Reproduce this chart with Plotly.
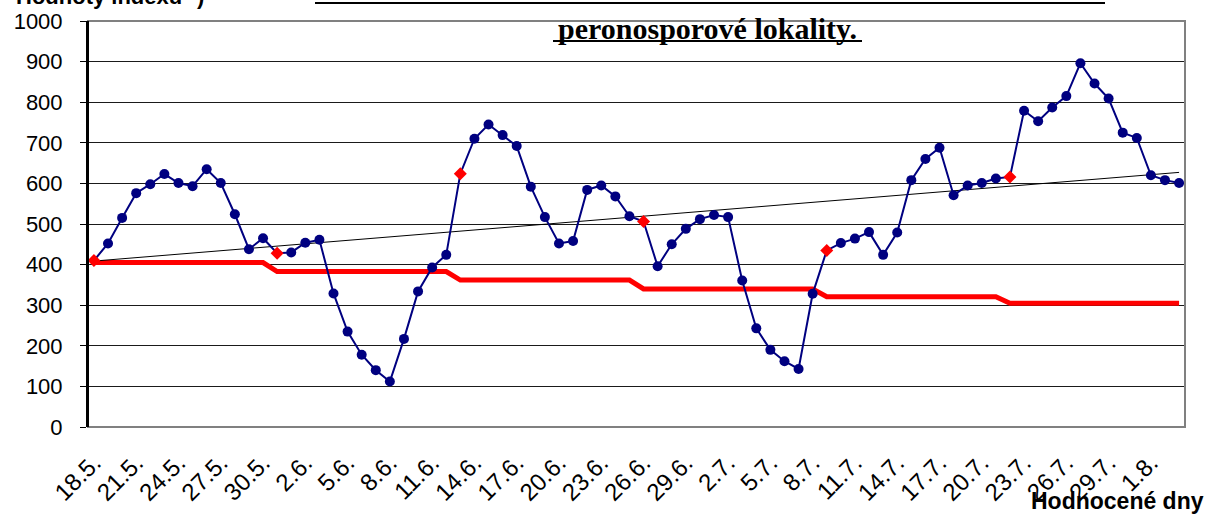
import numpy as np
import plotly.graph_objects as go

# ---- data -------------------------------------------------------------
days = [
    "18.5.", "19.5.", "20.5.", "21.5.", "22.5.", "23.5.", "24.5.", "25.5.", "26.5.", "27.5.",
    "28.5.", "29.5.", "30.5.", "31.5.",
    "1.6.", "2.6.", "3.6.", "4.6.", "5.6.", "6.6.", "7.6.", "8.6.", "9.6.", "10.6.",
    "11.6.", "12.6.", "13.6.", "14.6.", "15.6.", "16.6.", "17.6.", "18.6.", "19.6.", "20.6.",
    "21.6.", "22.6.", "23.6.", "24.6.", "25.6.", "26.6.", "27.6.", "28.6.", "29.6.", "30.6.",
    "1.7.", "2.7.", "3.7.", "4.7.", "5.7.", "6.7.", "7.7.", "8.7.", "9.7.", "10.7.",
    "11.7.", "12.7.", "13.7.", "14.7.", "15.7.", "16.7.", "17.7.", "18.7.", "19.7.", "20.7.",
    "21.7.", "22.7.", "23.7.", "24.7.", "25.7.", "26.7.", "27.7.", "28.7.", "29.7.", "30.7.",
    "31.7.", "1.8.", "2.8.", "3.8.",
]

index_values = [
    410, 452, 515, 576, 598, 623, 601, 593, 635, 601,
    524, 438, 465, 428, 430, 454, 461, 329, 235, 178,
    140, 112, 217, 334, 393, 424, 624, 710, 745, 719,
    692, 592, 517, 452, 458, 584, 595, 568, 519, 506,
    396, 450, 488, 512, 522, 517, 361, 243, 190, 162,
    143, 328, 435, 453, 464, 480, 424, 479, 608, 660,
    688, 571, 595, 601, 612, 616, 779, 753, 787, 815,
    896, 846, 809, 725, 712, 620, 608, 601,
]

threshold = [
    405, 405, 405, 405, 405, 405, 405, 405, 405, 405, 405, 405, 405,
    383, 383, 383, 383, 383, 383, 383, 383, 383, 383, 383, 383, 383,
    362, 362, 362, 362, 362, 362, 362, 362, 362, 362, 362, 362, 362,
    340, 340, 340, 340, 340, 340, 340, 340, 340, 340, 340, 340, 340,
    321, 321, 321, 321, 321, 321, 321, 321, 321, 321, 321, 321, 321,
    305, 305, 305, 305, 305, 305, 305, 305, 305, 305, 305, 305, 305,
]

highlight_days = ["18.5.", "31.5.", "13.6.", "26.6.", "9.7.", "22.7."]

tick_labels = [
    "18.5.", "21.5.", "24.5.", "27.5.", "30.5.", "2.6.", "5.6.", "8.6.", "11.6.",
    "14.6.", "17.6.", "20.6.", "23.6.", "26.6.", "29.6.", "2.7.", "5.7.", "8.7.",
    "11.7.", "14.7.", "17.7.", "20.7.", "23.7.", "26.7.", "29.7.", "1.8.",
]

y_ticks = [0, 100, 200, 300, 400, 500, 600, 700, 800, 900, 1000]

# ---- geometry (page pixels) ---------------------------------------------
W, H = 1208, 515
L, R, T, B = 88, 1185, 21, 427   # plot area in page pixels


def px(xp):
    return (xp - L) / (R - L)


def py(yp):
    return (B - yp) / (B - T)


# linear trend (as Excel trendline)
pos = np.arange(len(index_values))
k, q = np.polyfit(pos, np.array(index_values, dtype=float), 1)
trend = (k * pos + q).tolist()

colors = ["#FF0000" if d in highlight_days else "#000080" for d in days]
symbols = ["diamond" if d in highlight_days else "circle" for d in days]

fig = go.Figure()

fig.add_trace(go.Scatter(
    x=days, y=threshold, mode="lines",
    line=dict(color="#FF0000", width=5),
    showlegend=False, hoverinfo="skip",
))
fig.add_trace(go.Scatter(
    x=days, y=trend, mode="lines",
    line=dict(color="#000000", width=1),
    showlegend=False, hoverinfo="skip",
))
fig.add_trace(go.Scatter(
    x=days, y=index_values, mode="lines+markers",
    line=dict(color="#000080", width=2),
    marker=dict(color=colors, symbol=symbols, size=10, line=dict(width=0)),
    showlegend=False,
))

font_sans = "Liberation Sans, Arial, sans-serif"
font_serif = "Liberation Serif, Times New Roman, serif"

fig.update_layout(
    width=W, height=H,
    margin=dict(l=L, r=W - R, t=T, b=H - B, pad=0, autoexpand=False),
    paper_bgcolor="white", plot_bgcolor="white",
    font=dict(family=font_sans, size=20, color="black"),
    xaxis=dict(
        type="category", automargin=False,
        range=[-0.42, len(days) - 1 + 0.42],
        tickmode="array", tickvals=tick_labels, ticktext=tick_labels,
        tickangle=-45, ticks="", showgrid=False, zeroline=False,
        showline=False, ticklabelstandoff=16,
        tickfont=dict(family=font_sans, size=24, color="black"),
    ),
    yaxis=dict(
        automargin=False,
        range=[0, 1000], tickmode="array", tickvals=y_ticks,
        showgrid=True, gridcolor="#1a1a1a", gridwidth=1,
        zeroline=False, showline=True, linecolor="black", linewidth=2,
        ticks="outside", ticklen=6, tickcolor="black", tickwidth=1,
        ticklabelstandoff=13,
        tickfont=dict(family=font_sans, size=22, color="black"),
    ),
    shapes=[
        dict(type="rect", xref="paper", yref="paper", x0=0, x1=1, y0=0, y1=1,
             line=dict(color="#808080", width=2), layer="above"),
        dict(type="line", xref="paper", yref="paper", x0=0, x1=0, y0=0, y1=1,
             line=dict(color="black", width=2), layer="above"),
        # underline of the (cut off) first title line
        dict(type="line", xref="paper", yref="paper", x0=px(315), x1=px(1105),
             y0=py(3), y1=py(3), line=dict(color="black", width=2), layer="above"),
        # underline of second title line
        dict(type="line", xref="paper", yref="paper", x0=px(553), x1=px(862),
             y0=py(41), y1=py(41), line=dict(color="black", width=2), layer="above"),
    ],
    annotations=[
        dict(text="<b>peronosporové lokality.</b>", xref="paper", yref="paper",
             x=px(707), y=py(28), xanchor="center", yanchor="middle",
             showarrow=False, font=dict(family=font_serif, size=30, color="black"),
             bgcolor="rgba(0,0,0,0)"),
        dict(text="<b>Hodnoty indexu *)</b>", xref="paper", yref="paper",
             x=px(14), y=py(11), xanchor="left", yanchor="bottom",
             showarrow=False, font=dict(family=font_sans, size=22, color="black")),
        dict(text="<b>Hodnocené dny</b>", xref="paper", yref="paper",
             x=px(1206), y=py(516), xanchor="right", yanchor="bottom",
             showarrow=False, font=dict(family=font_sans, size=23, color="black")),
    ],
)

# the page body has a default 8 px margin; remove it so the figure fills the window
fig.write_html(
    "out.html",
    config={"displayModeBar": False},
    post_script="document.body.style.margin='0';",
)
